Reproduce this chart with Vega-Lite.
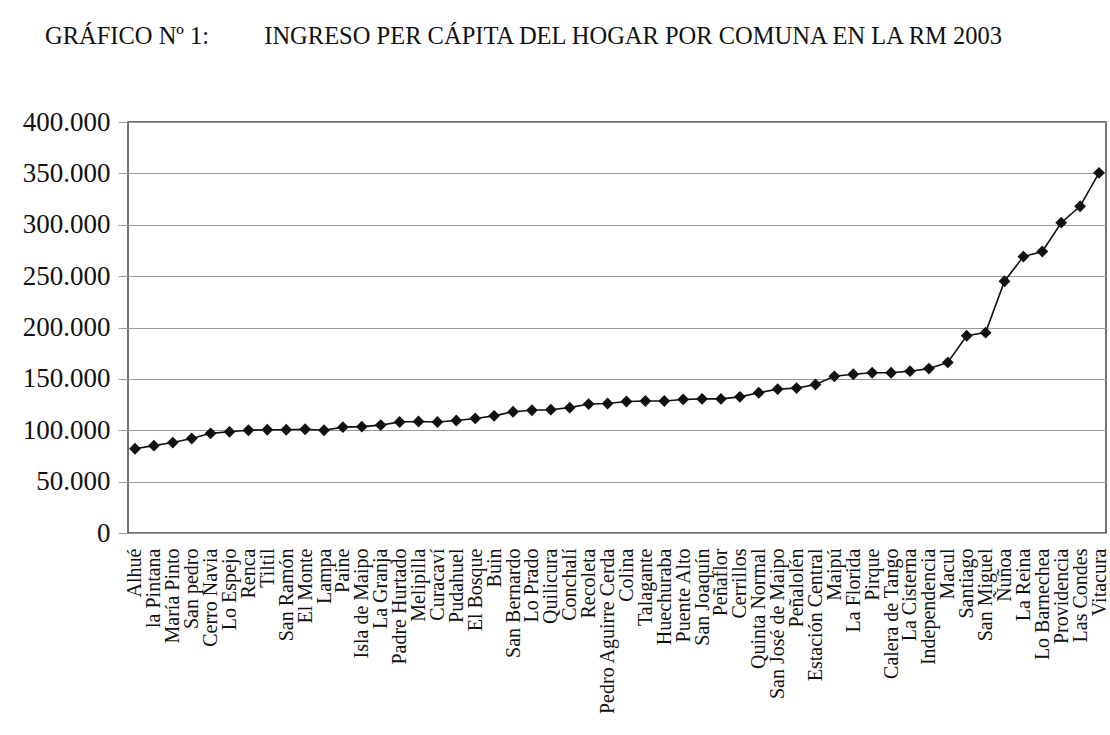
{
  "$schema": "https://vega.github.io/schema/vega-lite/v6.json",
  "width": 978,
  "height": 411,
  "autosize": {"type": "none"},
  "padding": {"left": 128, "top": 122, "right": 4, "bottom": 202},
  "background": "white",
  "title": {
    "text": "GRÁFICO Nº 1:\u00a0\u00a0\u00a0\u00a0\u00a0\u00a0\u00a0\u00a0\u00a0INGRESO PER CÁPITA DEL HOGAR POR COMUNA EN LA RM 2003",
    "anchor": "start",
    "frame": "group",
    "dx": -83,
    "baseline": "alphabetic",
    "offset": 40,
    "font": "Liberation Serif",
    "fontSize": 24.5,
    "fontWeight": "normal",
    "color": "#111"
  },
  "data": {
    "values": [
      {"comuna": "Alhué", "ingreso": 82000},
      {"comuna": "la Pintana", "ingreso": 85000},
      {"comuna": "María Pinto", "ingreso": 88000},
      {"comuna": "San pedro", "ingreso": 92000},
      {"comuna": "Cerro Navia", "ingreso": 97000},
      {"comuna": "Lo Espejo", "ingreso": 98500},
      {"comuna": "Renca", "ingreso": 100000},
      {"comuna": "Tiltil", "ingreso": 100500},
      {"comuna": "San Ramón", "ingreso": 100500},
      {"comuna": "El Monte", "ingreso": 101000},
      {"comuna": "Lampa", "ingreso": 100000},
      {"comuna": "Paine", "ingreso": 103000},
      {"comuna": "Isla de Maipo", "ingreso": 103500},
      {"comuna": "La Granja", "ingreso": 105000},
      {"comuna": "Padre Hurtado", "ingreso": 108000},
      {"comuna": "Melipilla", "ingreso": 108500},
      {"comuna": "Curacaví", "ingreso": 108000},
      {"comuna": "Pudahuel", "ingreso": 109500},
      {"comuna": "El Bosque", "ingreso": 111500},
      {"comuna": "Buin", "ingreso": 114000},
      {"comuna": "San Bernardo", "ingreso": 118000},
      {"comuna": "Lo Prado", "ingreso": 119500},
      {"comuna": "Quilicura", "ingreso": 120000},
      {"comuna": "Conchalí", "ingreso": 122000},
      {"comuna": "Recoleta", "ingreso": 125500},
      {"comuna": "Pedro Aguirre Cerda", "ingreso": 126000},
      {"comuna": "Colina", "ingreso": 128000},
      {"comuna": "Talagante", "ingreso": 128500},
      {"comuna": "Huechuraba", "ingreso": 128500},
      {"comuna": "Puente Alto", "ingreso": 130000},
      {"comuna": "San Joaquín", "ingreso": 130500},
      {"comuna": "Peñaflor", "ingreso": 130500},
      {"comuna": "Cerrillos", "ingreso": 132500},
      {"comuna": "Quinta Normal", "ingreso": 136500},
      {"comuna": "San José de Maipo", "ingreso": 140000},
      {"comuna": "Peñalolén", "ingreso": 141000},
      {"comuna": "Estación Central", "ingreso": 144500},
      {"comuna": "Maipú", "ingreso": 152500},
      {"comuna": "La Florida", "ingreso": 154500},
      {"comuna": "Pirque", "ingreso": 156000},
      {"comuna": "Calera de Tango", "ingreso": 156000},
      {"comuna": "La Cisterna", "ingreso": 157500},
      {"comuna": "Independencia", "ingreso": 160000},
      {"comuna": "Macul", "ingreso": 166000},
      {"comuna": "Santiago", "ingreso": 192000},
      {"comuna": "San Miguel", "ingreso": 195000},
      {"comuna": "Ñuñoa", "ingreso": 245000},
      {"comuna": "La Reina", "ingreso": 269000},
      {"comuna": "Lo Barnechea", "ingreso": 274000},
      {"comuna": "Providencia", "ingreso": 302000},
      {"comuna": "Las Condes", "ingreso": 318000},
      {"comuna": "Vitacura", "ingreso": 350500}
    ]
  },
  "mark": {
    "type": "line",
    "color": "#111",
    "strokeWidth": 1.6,
    "point": {"shape": "diamond", "size": 140, "filled": true, "color": "#111", "opacity": 1}
  },
  "encoding": {
    "x": {
      "field": "comuna",
      "type": "nominal",
      "sort": null,
      "scale": {"type": "point", "padding": 0.37},
      "axis": {
        "title": null,
        "labelAngle": -90,
        "labelFont": "Liberation Serif",
        "labelFontSize": 20,
        "labelColor": "#111",
        "labelPadding": 15,
        "labelOverlap": false,
        "labelLimit": 400,
        "ticks": false,
        "domain": false,
        "grid": false
      }
    },
    "y": {
      "field": "ingreso",
      "type": "quantitative",
      "scale": {"domain": [0, 400000], "nice": false},
      "axis": {
        "title": null,
        "values": [0, 50000, 100000, 150000, 200000, 250000, 300000, 350000, 400000],
        "labelExpr": "replace(format(datum.value, ','), ',', '.')",
        "labelFont": "Liberation Serif",
        "labelFontSize": 27,
        "labelColor": "#111",
        "labelPadding": 8,
        "tickSize": 10,
        "tickColor": "#999",
        "grid": true,
        "gridColor": "#999",
        "gridOpacity": 1,
        "gridWidth": 1,
        "domain": false
      }
    }
  },
  "config": {
    "font": "Liberation Serif",
    "axis": {"labelFont": "Liberation Serif"},
    "view": {"stroke": "#444", "strokeWidth": 1.5}
  }
}
